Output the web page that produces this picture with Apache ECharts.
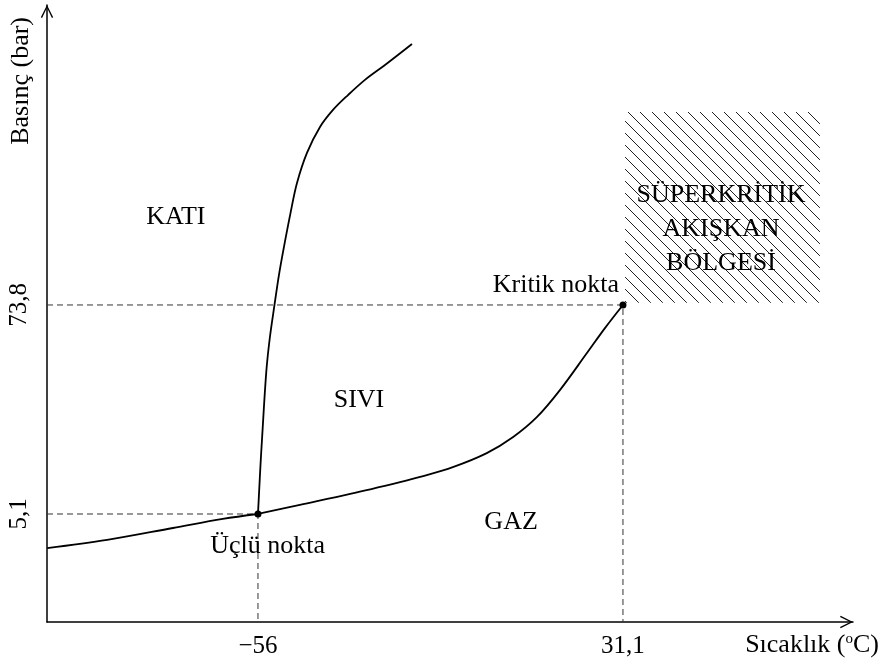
<!DOCTYPE html>
<html>
<head>
<meta charset="utf-8">
<script src="https://cdn.jsdelivr.net/npm/echarts@6/dist/echarts.min.js"></script>
<style>html,body{margin:0;padding:0;background:#fff}#c{width:882px;height:664px}</style>
</head>
<body>
<div id="c"></div>
<script>
// ---- data (schematic CO2 phase diagram) ----
const xMin = -106.35, xMax = 86;
const yMin = -30.4, yMax = 172.4;

const xTickValues = [-56, 31.1];
const xTickLabels = ['−56', '31,1'];
const yTickValues = [5.1, 73.8];
const yTickLabels = ['5,1', '73,8'];

const triplePoint = [-56, 5.1];
const criticalPoint = [31.1, 73.8];

// sublimation curve (solid-gas)
const subX = [-106.3, -92.0, -76.3, -64.4, -56];
const subY = [-6.1, -3.4, 0.5, 3.5, 5.1];
// vaporization curve (liquid-gas)
const vapX = [-56, -46.0, -34.0, -22.1, -17.3, -9.5, -1.4, 4.9, 10.6, 16.1, 22.5, 26.8, 31.1];
const vapY = [5.1, 8.1, 11.7, 15.6, 17.3, 20.5, 25.1, 30.4, 37.0, 45.9, 58.0, 66.2, 73.8];
// melting curve (solid-liquid)
const melX = [-56, -55.71, -55.40, -55.05, -54.02, -53.18, -52.06, -50.99, -49.80, -48.24, -46.69, -44.31, -41.20, -38.10, -34.52, -30.47, -25.69, -19.25];
const melY = [5.1, 13.0, 21.2, 29.4, 51.8, 62.95, 73.8, 83.7, 92.9, 104.0, 113.9, 123.8, 132.3, 137.9, 142.8, 147.8, 152.7, 159.6];

// supercritical region bounds
const scX = [31.6, 78.1];
const scY = [74.5, 137.2];

// region labels
const labelTexts = ['KATI', 'SIVI', 'GAZ', 'SÜPERKRİTİK\nAKIŞKAN\nBÖLGESİ', 'Üçlü nokta', 'Kritik nokta'];
const labelX = [-75.6, -31.9, 4.4, 54.5, -53.7, 15.1];
const labelY = [102.6, 42.6, 2.3, 98.8, -5.4, 80.4];

// ---- build ----
const zip = (a, b) => a.map((v, i) => [v, b[i]]);
const FONT = 'Liberation Serif';

function hatch() {
  const c = document.createElement('canvas');
  c.width = 12; c.height = 12;
  const g = c.getContext('2d');
  g.strokeStyle = '#222';
  g.lineWidth = 1;
  g.beginPath();
  g.moveTo(0, 0); g.lineTo(12, 12);
  g.moveTo(-6, 6); g.lineTo(6, 18);
  g.moveTo(6, -6); g.lineTo(18, 6);
  g.stroke();
  return c;
}

const arrow = 'path://M0,13 L6.5,0 L13,13 L11.7,13.7 L6.5,3 L1.3,13.7 Z';
const curveStyle = { color: '#000', width: 1.8 };
const dashStyle = { color: '#333', width: 1, type: [6, 4] };

const chart = echarts.init(document.getElementById('c'), null, { renderer: 'canvas' });
chart.setOption({
  animation: false,
  backgroundColor: '#fff',
  textStyle: { fontFamily: FONT },
  grid: { left: 47, right: 29, top: 5, bottom: 42, containLabel: false, outerBoundsMode: 'none' },
  xAxis: {
    type: 'value', min: xMin, max: xMax,
    splitLine: { show: false },
    axisTick: { show: false },
    axisLine: { onZero: false, lineStyle: { color: '#000', width: 1.5 },
      symbol: ['none', arrow], symbolSize: [13, 13], symbolOffset: [0, -6.5] },
    axisLabel: {
      customValues: xTickValues,
      formatter: v => xTickLabels[xTickValues.indexOf(v)],
      color: '#000', fontSize: 25, fontFamily: FONT, margin: 12
    },
    name: 'Sıcaklık ({sup|o}C)',
    nameLocation: 'end', nameGap: 26,
    nameTextStyle: { color: '#000', fontSize: 26, fontFamily: FONT, align: 'right', verticalAlign: 'top', padding: [10, 0, 0, 0],
      rich: { sup: { fontSize: 15, fontFamily: FONT, color: '#000', verticalAlign: 'top', padding: [0, 0, 12, 0] } } }
  },
  yAxis: {
    type: 'value', min: yMin, max: yMax,
    splitLine: { show: false },
    axisTick: { show: false },
    axisLine: { onZero: false, lineStyle: { color: '#000', width: 1.5 },
      symbol: ['none', arrow], symbolSize: [13, 13], symbolOffset: [0, -6.5] },
    axisLabel: {
      customValues: yTickValues,
      formatter: v => yTickLabels[yTickValues.indexOf(v)],
      rotate: 90,
      color: '#000', fontSize: 25, fontFamily: FONT, margin: 15
    },
    name: 'Basınç (bar)',
    nameLocation: 'end', nameGap: -12, nameRotate: 90,
    nameTextStyle: { color: '#000', fontSize: 26, fontFamily: FONT, align: 'right', verticalAlign: 'bottom', padding: [0, 0, 13, 0] }
  },
  series: [
    { type: 'line', data: zip(subX, subY), smooth: 0.35, showSymbol: false, lineStyle: curveStyle, z: 5 },
    { type: 'line', data: zip(vapX, vapY), smooth: 0.35, showSymbol: false, lineStyle: curveStyle, z: 5 },
    { type: 'line', data: zip(melX, melY), smooth: 0.35, showSymbol: false, lineStyle: curveStyle, z: 5 },
    { type: 'line', data: [[xMin, triplePoint[1]], triplePoint, [triplePoint[0], yMin]], showSymbol: false, lineStyle: dashStyle, z: 3 },
    { type: 'line', data: [[xMin, criticalPoint[1]], criticalPoint, [criticalPoint[0], yMin]], showSymbol: false, lineStyle: dashStyle, z: 3,
      markArea: {
        silent: true,
        itemStyle: { color: { image: hatch(), repeat: 'repeat' }, opacity: 1, borderWidth: 0 },
        data: [[{ coord: [scX[0], scY[1]] }, { coord: [scX[1], scY[0]] }]]
      }
    },
    { type: 'scatter', data: [triplePoint, criticalPoint], symbolSize: 7, itemStyle: { color: '#000', opacity: 1 }, z: 6 },
    { type: 'scatter', data: labelTexts.map((t, i) => ({ value: [labelX[i], labelY[i]], name: t })),
      symbolSize: 1, itemStyle: { color: 'rgba(0,0,0,0)', opacity: 1 }, z: 7,
      label: { show: true, position: 'inside', formatter: p => p.name, color: '#000', opacity: 1,
        textBorderWidth: 0, textBorderColor: 'transparent', fontSize: 26, fontFamily: FONT, lineHeight: 34 } }
  ]
});
</script>
</body>
</html>
